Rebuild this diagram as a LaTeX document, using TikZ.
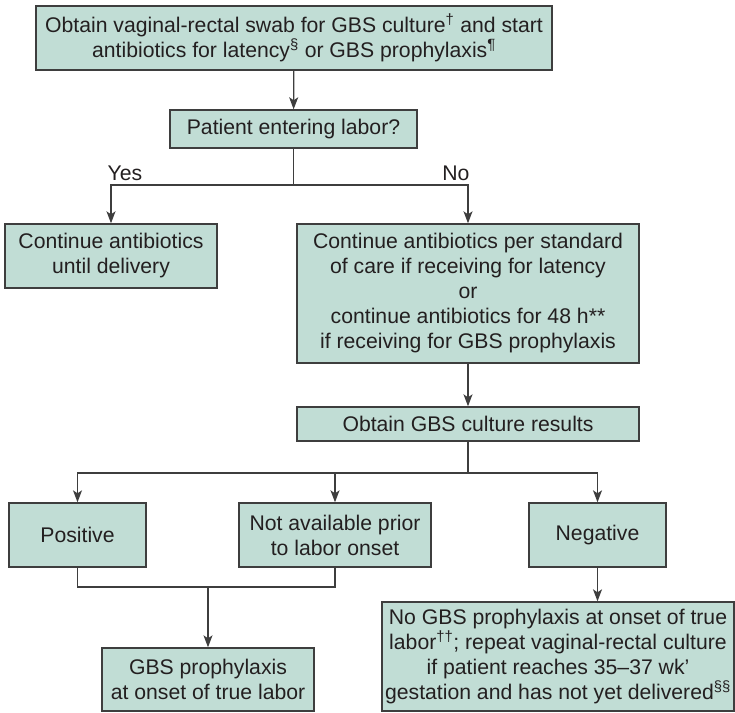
\documentclass[tikz,border=0pt]{standalone}
\usepackage{fontspec}
\setmainfont{Liberation Sans}
\usetikzlibrary{arrows.meta}

\definecolor{boxfill}{RGB}{193,221,213}
\definecolor{boxline}{RGB}{62,62,62}
\definecolor{ink}{RGB}{35,31,32}

\begin{document}
\begin{tikzpicture}[
  x=1pt,y=-1pt,
  every node/.style={text=ink,font=\fontsize{21.2}{25}\selectfont},
  stepbox/.style={draw=boxline,fill=boxfill,line width=1.4pt,inner sep=0pt,align=center},
  flow/.style={draw=boxline,line width=1.3pt},
  arr/.style={flow,-{Stealth[length=12pt,width=9pt,inset=3pt]}}
]
  \useasboundingbox (0,0) rectangle (735,712);

  \node[stepbox,minimum width=516pt,minimum height=64pt] (swab) at (294,38)
    {Obtain vaginal-rectal swab for GBS culture\textsuperscript{†} and start\\
     antibiotics for latency\textsuperscript{§} or GBS prophylaxis\textsuperscript{¶}};
  \node[stepbox,minimum width=247pt,minimum height=38pt] (labor) at (293.5,129)
    {Patient entering labor?};
  \node[stepbox,minimum width=212pt,minimum height=64pt] (cont) at (111,256)
    {Continue antibiotics\\ until delivery};
  \node[stepbox,minimum width=342pt,minimum height=139pt] (std) at (468,293.5)
    {Continue antibiotics per standard\\ of care if receiving for latency\\ or\\
     continue antibiotics for 48 h**\\ if receiving for GBS prophylaxis};
  \node[stepbox,minimum width=342pt,minimum height=34pt] (result) at (468,424)
    {Obtain GBS culture results};
  \node[stepbox,minimum width=137pt,minimum height=64pt] (pos) at (77.5,535) {Positive};
  \node[stepbox,minimum width=192pt,minimum height=64pt] (unknown) at (335,535)
    {Not available prior\\ to labor onset};
  \node[stepbox,minimum width=137pt,minimum height=64pt] (neg) at (597.5,535) {Negative};
  \node[stepbox,minimum width=212pt,minimum height=63pt] (gbs) at (208,679.5)
    {GBS prophylaxis\\ at onset of true labor};
  \node[stepbox,minimum width=352pt,minimum height=109pt] (nogbs) at (558,656.5)
    {No GBS prophylaxis at onset of true\\
     labor\textsuperscript{††}; repeat vaginal-rectal culture\\
     if patient reaches 35–37 wk’\\
     gestation and has not yet delivered\textsuperscript{§§}};

  \coordinate (split) at (293.5,185);
  \coordinate (fork) at (468,473);
  \coordinate (join) at (208,587);

  \draw[arr] (swab) -- (labor);
  \draw[flow] (labor) -- (split);
  \draw[arr] (split) -| node[pos=.5,anchor=base west,inner sep=0pt,xshift=-4pt,yshift=5pt] (yes) {Yes} (cont);
  \draw[arr] (split) -| node[pos=.5,anchor=base east,inner sep=0pt,xshift=2pt,yshift=5pt] (no) {No} (std);
  \draw[arr] (std) -- (result);
  \draw[flow] (result) -- (fork);
  \draw[arr] (fork) -| (pos);
  \draw[arr] (fork) -| (unknown);
  \draw[arr] (fork) -| (neg);
  \draw[flow] (pos) |- (join) -| (unknown);
  \draw[arr] (join) -- (gbs);
  \draw[arr] (neg) -- (neg.south |- nogbs.north);
\end{tikzpicture}
\end{document}
